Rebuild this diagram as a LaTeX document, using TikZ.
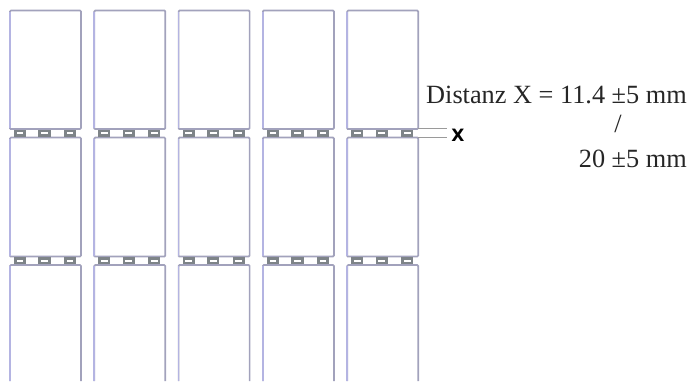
\documentclass[tikz,border=0pt]{standalone}
\usepackage{fontspec}
\setmainfont{Liberation Serif}
\setsansfont{DejaVu Sans}
\definecolor{boxline}{HTML}{A2A2BC}
\definecolor{boxleft}{HTML}{B4B4E2}
\definecolor{tabline}{HTML}{7E8488}
\definecolor{leader}{HTML}{9A9A9A}
\tikzset{
  cellline/.style={draw=boxline,line width=1.7pt,rounded corners=1pt},
  cellleft/.style={draw=boxleft,line width=1.7pt},
  tabbox/.style={draw=tabline,line width=2.7pt,minimum width=9.5pt,minimum height=4.4pt,inner sep=0pt},
  leaderline/.style={draw=leader,line width=1.1pt},
  dimtext/.style={font=\fontsize{26.3}{30}\selectfont,inner sep=0pt,text=black!85}
}
\begin{document}
\begin{tikzpicture}[x=1pt,y=-1pt]
\useasboundingbox (0,0) rectangle (697,381);
\foreach \c/\xl in {1/10,2/94.3,3/178.6,4/262.9,5/347.2}{
  \pgfmathsetmacro\xr{\xl+71}
  % top row
  \draw[cellline] (\xl,129) -- (\xl,10.5) -- (\xr,10.5) -- (\xr,129) -- (\xl,129);
  \draw[cellleft] (\xl,128) -- (\xl,11.5);
  % middle row
  \draw[cellline] (\xl,256.5) -- (\xl,137.5) -- (\xr,137.5) -- (\xr,256.5) -- (\xl,256.5);
  \draw[cellleft] (\xl,255.5) -- (\xl,138.5);
  % bottom row, open at the lower edge
  \draw[cellline] (\xl,381) -- (\xl,265) -- (\xr,265) -- (\xr,381);
  \draw[cellleft] (\xl,381) -- (\xl,266);
  % connecting tabs
  \foreach \yy in {133.3,260.7}{
    \node[tabbox] at (\xl+10,\yy) {};
    \node[tabbox] at (\xl+34.5,\yy) {};
    \node[tabbox] at (\xl+60,\yy) {};
  }
}
\coordinate (leadA) at (418,128.5);
\coordinate (leadB) at (418,137.5);
\node[font=\sffamily\bfseries\fontsize{17}{17}\selectfont,inner sep=0pt] (xmark) at (458,135) {X};
\draw[leaderline] (leadA) -- (447,128.5);
\draw[leaderline] (leadB) -- (447,137.5);
\node[dimtext,anchor=base east] (dim) at (687,103) {Distanz X = 11.4 ±5 mm};
\node[dimtext,anchor=base] (slash) at (618,132) {/};
\node[dimtext,anchor=base east] (dimb) at (687,167) {20 ±5 mm};
\end{tikzpicture}
\end{document}
